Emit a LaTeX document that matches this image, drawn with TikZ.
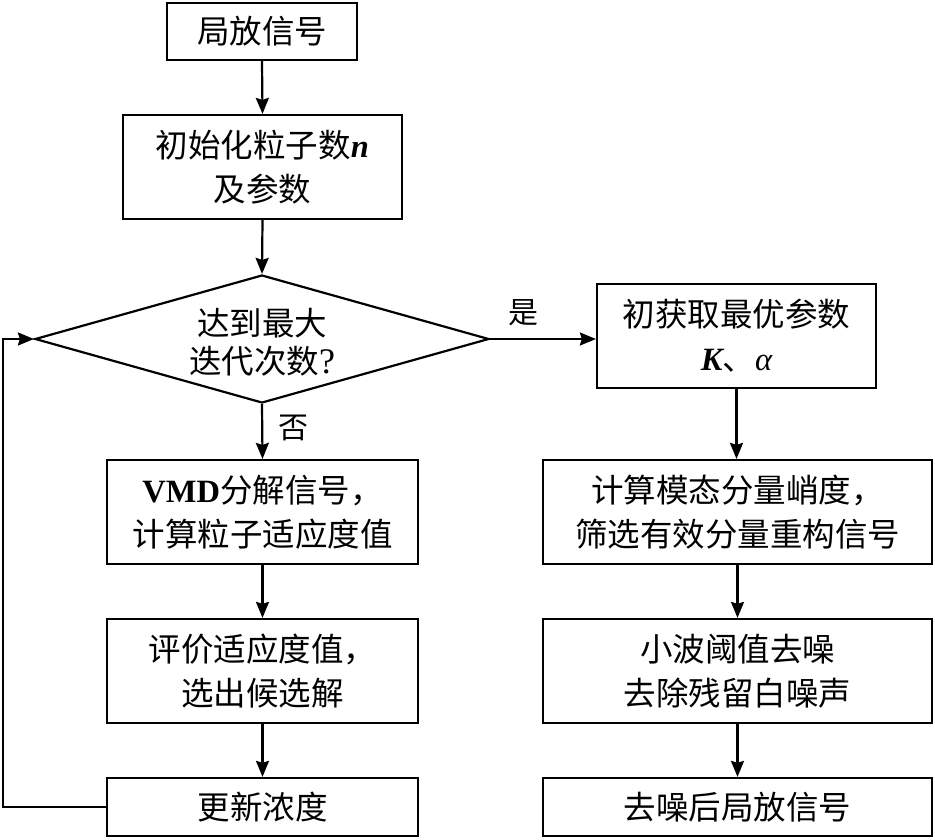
\documentclass[tikz,border=0pt]{standalone}
\usepackage{fontspec}
\setmainfont{Liberation Serif}
\newfontfamily\cjk{Noto Sans CJK SC}
\usetikzlibrary{shapes.geometric,arrows.meta}
\tikzset{
  boxnode/.style={draw, line width=2.2pt, inner sep=0pt, align=center,
    font=\cjk\fontsize{32.5}{44}\selectfont},
  dianode/.style={draw, line width=2.2pt, diamond, inner sep=0pt, aspect=3.55,
    minimum width=454pt, minimum height=128pt},
  txt/.style={align=center, inner sep=0pt, font=\cjk\fontsize{32.5}{38}\selectfont},
  lbl/.style={inner sep=0pt, font=\cjk\fontsize{30}{36}\selectfont},
  arr/.style={line width=2.2pt, -{Stealth[length=16pt,width=13pt,inset=2pt]}}
}
\newcommand{\ltn}[1]{{\rmfamily #1}}
\begin{document}
\begin{tikzpicture}[x=1pt,y=-1pt]
\useasboundingbox (0,0) rectangle (935,839);
% left column
\node[boxnode, minimum width=190pt, minimum height=57pt] (b1) at (262,31.5) {局放信号};
\node[boxnode, minimum width=279pt, minimum height=104pt] (b2) at (262.5,167) {初始化粒子数\ltn{\bfseries\itshape n}\\及参数};
\node[dianode] (d) at (262,339) {};
\node[txt] (dt) at (262,342) {达到最大\\迭代次数\ltn{\fontsize{36}{38}\selectfont ?}};
\node[boxnode, minimum width=311pt, minimum height=104pt] (b3) at (262.5,512) {\ltn{\bfseries VMD}分解信号，\\计算粒子适应度值};
\node[boxnode, minimum width=311pt, minimum height=104pt] (b4) at (262.5,671) {评价适应度值，\\选出候选解};
\node[boxnode, minimum width=311pt, minimum height=58pt] (b5) at (262.5,807) {更新浓度};
% right column
\node[boxnode, minimum width=279pt, minimum height=104pt] (r1) at (736.5,336) {初获取最优参数\\\ltn{\bfseries\itshape K}、\ltn{\itshape α}};
\node[boxnode, minimum width=389pt, minimum height=104pt] (r2) at (737.5,512) {计算模态分量峭度，\\筛选有效分量重构信号};
\node[boxnode, minimum width=389pt, minimum height=104pt] (r3) at (737.5,671) {小波阈值去噪\\去除残留白噪声};
\node[boxnode, minimum width=389pt, minimum height=58pt] (r4) at (737.5,807) {去噪后局放信号};
% labels
\node[lbl] (yes) at (523,313) {是};
\node[lbl] (no) at (293,428) {否};
% connectors
\draw[arr] (b1.south) -- (b2.north);
\draw[arr] (b2.south) -- (d.north);
\draw[arr] (d.east) -- (d.east -| r1.west);
\draw[arr] (d.south) -- (b3.north);
\draw[arr] (b3.south) -- (b4.north);
\draw[arr] (b4.south) -- (b5.north);
\coordinate (lp) at (3,339);
\draw[arr] (b5.west) -| (lp) -- (d.west);
\draw[arr] (r1.south) -- (r1.south |- r2.north);
\draw[arr] (r2.south) -- (r3.north);
\draw[arr] (r3.south) -- (r4.north);
\end{tikzpicture}
\end{document}
